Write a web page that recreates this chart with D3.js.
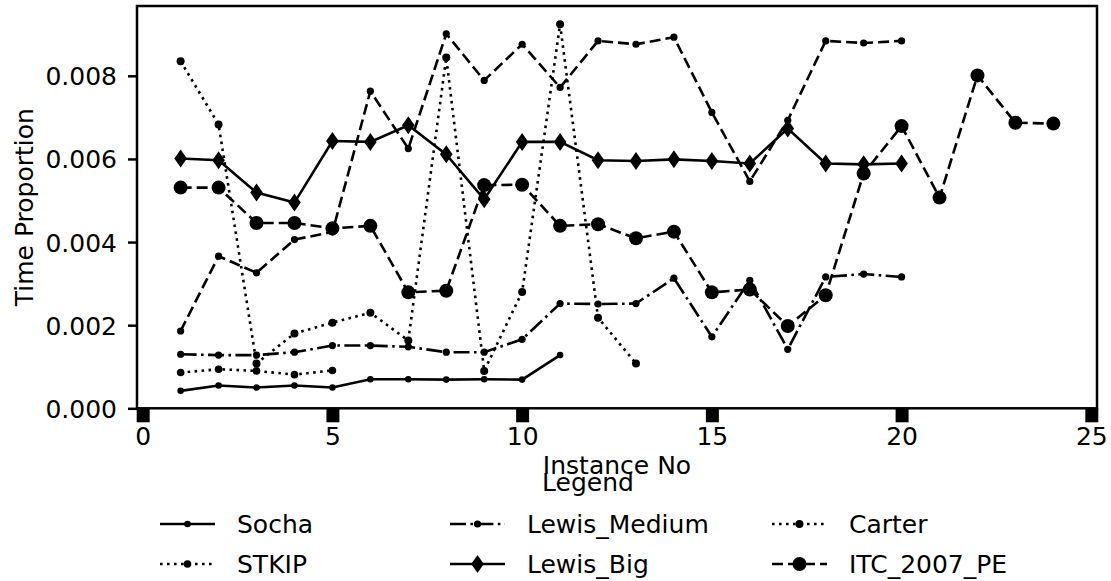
<!DOCTYPE html>
<html>
<head>
<meta charset="utf-8">
<script src="https://cdn.jsdelivr.net/npm/d3@7"></script>
<style>
  body { margin: 0; background: #fff; }
  text { font-family: "DejaVu Sans", sans-serif; fill: #000; }
</style>
</head>
<body>
<div id="chart"></div>
<script>
// instance numbers and measured time proportions
const instanceNo = [1, 2, 3, 4, 5, 6, 7, 8, 9, 10, 11, 12, 13, 14, 15, 16, 17, 18, 19, 20, 21, 22, 23, 24];
const socha = [0.00042, 0.00055, 0.00050, 0.00055, 0.00050, 0.00070, 0.00070, 0.00069, 0.00070, 0.00069, 0.00128];
const stkip = [0.00086, 0.00094, 0.00090, 0.00081, 0.00091];
const lewisMedium = [0.00130, 0.00128, 0.00128, 0.00135, 0.00151, 0.00151, 0.00148, 0.00135, 0.00135, 0.00166,
    0.00252, 0.00251, 0.00252, 0.00313, 0.00172, 0.00308, 0.00142, 0.00316, 0.00323, 0.00316];
const lewisBig = [0.00601, 0.00597, 0.00519, 0.00495, 0.00643, 0.00641, 0.00681, 0.00611, 0.00503, 0.00641,
    0.00641, 0.00597, 0.00595, 0.00599, 0.00595, 0.00589, 0.00673, 0.00589, 0.00587, 0.00589];
const carter = [0.00835, 0.00683, 0.00108, 0.00180, 0.00206, 0.00230, 0.00163, 0.00844, 0.00090, 0.00280,
    0.00924, 0.00218, 0.00108];
const itc2007 = [0.00531, 0.00531, 0.00446, 0.00446, 0.00433, 0.00439, 0.00279, 0.00283, 0.00537, 0.00538,
    0.00439, 0.00443, 0.00409, 0.00425, 0.00279, 0.00286, 0.00198, 0.00272, 0.00565, 0.00679,
    0.00507, 0.00801, 0.00687, 0.00685];
const unlabeled = [0.00186, 0.00366, 0.00326, 0.00406, 0.00424, 0.00763, 0.00625, 0.00901, 0.00789, 0.00876,
    0.00772, 0.00884, 0.00876, 0.00893, 0.00712, 0.00546, 0.00693, 0.00884, 0.00879, 0.00884];
const xTicks = [0, 5, 10, 15, 20, 25];
const yTicks = [0, 0.002, 0.004, 0.006, 0.008];

const dashed = "11,5", dotted = "2.6,4.4", dashDot = "16,4.4,2.6,4.4";
const series = [
    { name: "Socha", values: socha, dash: null, marker: "dot", r: 3.3 },
    { name: "STKIP", values: stkip, dash: dotted, marker: "dot", r: 3.8 },
    { name: "Lewis_Medium", values: lewisMedium, dash: dashDot, marker: "dot", r: 3.6 },
    { name: "Lewis_Big", values: lewisBig, dash: null, marker: "thin", r: 9 },
    { name: "Carter", values: carter, dash: dotted, marker: "dot", r: 4 },
    { name: "ITC_2007_PE", values: itc2007, dash: dashed, marker: "dot", r: 7 },
    { name: null, values: unlabeled, dash: dashed, marker: "dot", r: 3.6 }
];

const W = 1111, H = 581;
const plotL = 137, plotR = 1097, plotT = 6, plotB = 408.3;
const svg = d3.select("#chart").append("svg").attr("width", W).attr("height", H);

const x = d3.scaleLinear().domain([-0.15, 25.15]).range([plotL, plotR]);
const y = d3.scaleLinear().domain([0, 0.00968]).range([plotB, plotT]);

// axes
const xAxis = svg.append("g")
    .attr("transform", `translate(0,${plotB})`)
    .call(d3.axisBottom(x).tickValues(xTicks).tickSize(14).tickFormat(d3.format("d")));
xAxis.select(".domain").remove();
xAxis.selectAll(".tick line").attr("stroke", "#000").attr("stroke-width", 13);
xAxis.selectAll(".tick text").attr("y", 37).attr("dy", null)
    .style("font-size", "25px").style("font-family", "DejaVu Sans");

const yAxis = svg.append("g")
    .attr("transform", `translate(${plotL},0)`)
    .call(d3.axisLeft(y).tickValues(yTicks).tickSize(9).tickPadding(11).tickFormat(d3.format(".3f")));
yAxis.select(".domain").remove();
yAxis.selectAll(".tick line").attr("stroke", "#000").attr("stroke-width", 2.5);
yAxis.selectAll(".tick text").attr("dy", "0.36em")
    .style("font-size", "25px").style("font-family", "DejaVu Sans");

// frame
svg.append("rect")
    .attr("x", plotL).attr("y", plotT)
    .attr("width", plotR - plotL).attr("height", plotB - plotT)
    .attr("fill", "none").attr("stroke", "#000").attr("stroke-width", 2.5);

const thinDiamond = (s) => `M0,${-s}L${s * 0.7},0L0,${s}L${-s * 0.7},0Z`;

function drawMarker(g, m, cx, cy) {
    if (m.marker === "thin") {
        g.append("path").attr("d", thinDiamond(m.r))
            .attr("transform", `translate(${cx},${cy})`).attr("fill", "#000");
    } else {
        g.append("circle").attr("cx", cx).attr("cy", cy).attr("r", m.r).attr("fill", "#000");
    }
}

const line = d3.line().x((d, i) => x(instanceNo[i])).y((d) => y(d));

series.forEach((s) => {
    const g = svg.append("g");
    g.append("path")
        .attr("d", line(s.values))
        .attr("fill", "none")
        .attr("stroke", "#000")
        .attr("stroke-width", 2.6)
        .attr("stroke-dasharray", s.dash);
    s.values.forEach((v, i) => drawMarker(g, s, x(instanceNo[i]), y(v)));
});

// axis labels
svg.append("text")
    .attr("x", (plotL + plotR) / 2).attr("y", 474)
    .attr("text-anchor", "middle")
    .style("font-size", "25px")
    .text("Instance No");
svg.append("text")
    .attr("transform", `translate(33,${(plotT + plotB) / 2}) rotate(-90)`)
    .attr("text-anchor", "middle")
    .style("font-size", "25px")
    .text("Time Proportion");

// legend
svg.append("text")
    .attr("x", 588).attr("y", 491)
    .attr("text-anchor", "middle")
    .style("font-size", "25px")
    .text("Legend");

const legendCols = [160, 450, 772];
const legendRows = [524, 564];
series.filter((s) => s.name).forEach((s, i) => {
    const lx = legendCols[Math.floor(i / 2)], ly = legendRows[i % 2];
    const g = svg.append("g");
    g.append("line")
        .attr("x1", lx).attr("x2", lx + 55).attr("y1", ly).attr("y2", ly)
        .attr("stroke", "#000").attr("stroke-width", 2.6)
        .attr("stroke-dasharray", s.dash);
    drawMarker(g, s, lx + 27.5, ly);
    g.append("text")
        .attr("x", lx + 77).attr("y", ly + 9)
        .style("font-size", "25px")
        .text(s.name);
});
</script>
</body>
</html>
